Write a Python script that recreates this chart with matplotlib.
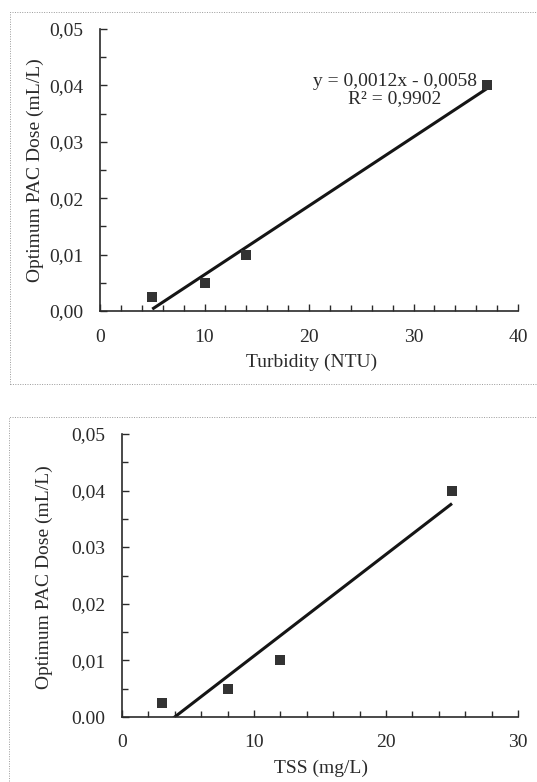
import numpy as np
import matplotlib
matplotlib.use("Agg")
import matplotlib.pyplot as plt
from matplotlib.patches import Rectangle

plt.rcParams['font.family'] = ['Liberation Serif', 'DejaVu Serif']

# Data
turbidity = [5, 10, 14, 37]
tss = [3, 8, 12, 25]
pac_dose = [0.0025, 0.005, 0.01, 0.04]

top_yticks = [0.0, 0.01, 0.02, 0.03, 0.04, 0.05]
top_yticklabels = ["0,00", "0,01", "0,02", "0,03", "0,04", "0,05"]
bot_yticklabels = ["0.00", "0,01", "0,02", "0.03", "0,04", "0,05"]
top_xticks = [0, 10, 20, 30, 40]
bot_xticks = [0, 10, 20, 30]
ylabel = "Optimum PAC Dose (mL/L)"
top_xlabel = "Turbidity (NTU)"
bot_xlabel = "TSS (mg/L)"
equation = "y = 0,0012x - 0,0058\nR² = 0,9902"

INK = '#2a2a2a'
W, H = 537, 782
fig = plt.figure(figsize=(W / 100, H / 100), dpi=100)
fig.patch.set_facecolor('white')

# dotted frames
fig.add_artist(Rectangle((10 / W, 1 - 384 / H), 540 / W, 372 / H, transform=fig.transFigure,
                         fill=False, ls=(0, (1, 1.5)), lw=0.7, ec='#9a9a9a'))
fig.add_artist(Rectangle((9 / W, -0.05), 540 / W, 0.05 + 1 - 417 / H, transform=fig.transFigure,
                         fill=False, ls=(0, (1, 1.5)), lw=0.7, ec='#9a9a9a'))


def make_axes(rect, x, y, xlim, xticks, yticklabels, xlabel, xlab_pos, ylab_pos, xpad):
    ax = fig.add_axes(rect)
    ax.set_xlim(*xlim)
    ax.set_ylim(0, 0.05)
    ax.scatter(x, y, marker='s', s=55, color='#333333', zorder=3, linewidths=0)
    coef = np.polyfit(x, y, 1)
    xs = np.array([min(x), max(x)])
    ax.plot(xs, np.polyval(coef, xs), color='#151515', lw=2.2, zorder=2, solid_capstyle='butt')
    for s in ['top', 'right']:
        ax.spines[s].set_visible(False)
    for s in ['left', 'bottom']:
        ax.spines[s].set_color(INK)
        ax.spines[s].set_linewidth(1.2)
    ax.set_xticks(xticks)
    ax.set_xticklabels([str(t) for t in xticks])
    ax.set_xticks(np.arange(xlim[0], xlim[1] + 0.01, 2), minor=True)
    ax.set_yticks(top_yticks)
    ax.set_yticklabels(yticklabels)
    ax.set_yticks(np.arange(0, 0.0501, 0.005), minor=True)
    ax.tick_params(which='both', direction='in', color=INK, width=1.0)
    ax.tick_params(which='major', length=5)
    ax.tick_params(which='minor', length=4)
    ax.tick_params(axis='x', which='major', pad=xpad, labelsize=14, labelcolor=INK)
    ax.tick_params(axis='y', which='major', pad=12, labelsize=14, labelcolor=INK)
    ax.set_xlabel(xlabel, fontsize=14, color=INK)
    ax.set_ylabel(ylabel, fontsize=14, color=INK)
    ax.xaxis.set_label_coords(*xlab_pos)
    ax.yaxis.set_label_coords(*ylab_pos)
    ax.set_facecolor('none')
    return ax


ax1 = make_axes([100 / W, 1 - 311 / H, 418 / W, 282 / H], turbidity, pac_dose, (0, 40),
                top_xticks, top_yticklabels, top_xlabel, (0.507, -0.153), (-0.134, 0.5), 13)
ax1.text(0.706, 0.782, equation, transform=ax1.transAxes, ha='center', va='center',
         fontsize=14, color=INK, linespacing=1.0)

ax2 = make_axes([122 / W, 1 - 717 / H, 396 / W, 283 / H], tss, pac_dose, (0, 30),
                bot_xticks, bot_yticklabels, bot_xlabel, (0.503, -0.15), (-0.175, 0.496), 12)

fig.savefig('out.png', dpi=100, facecolor='white')
